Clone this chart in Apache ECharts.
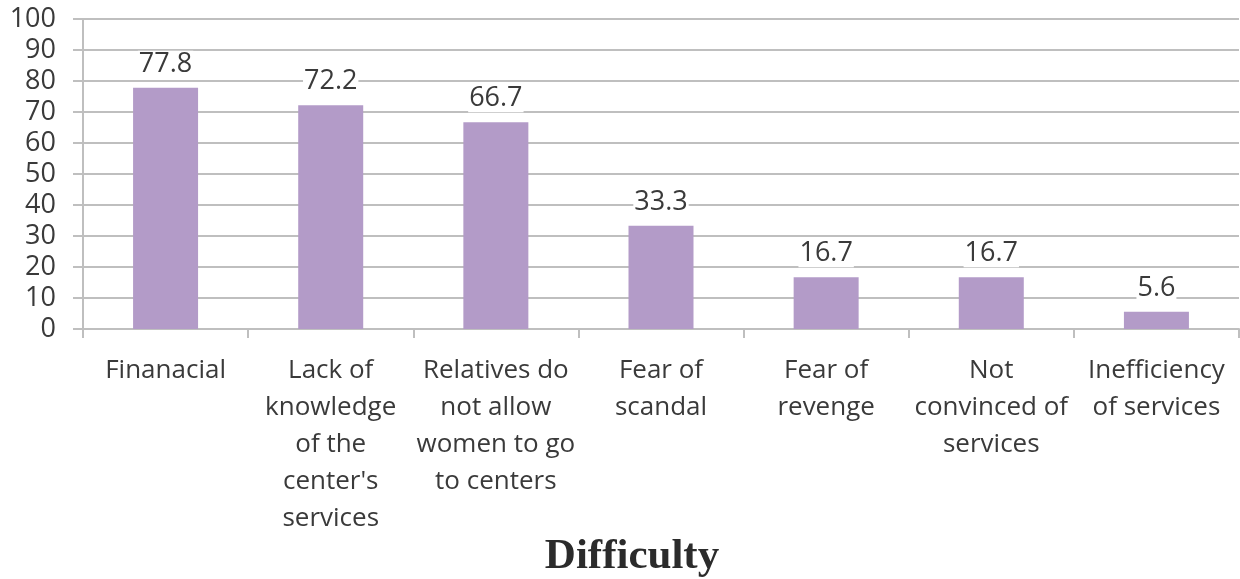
<!DOCTYPE html>
<html>
<head>
<meta charset="utf-8">
<script src="https://cdn.jsdelivr.net/npm/echarts@6/dist/echarts.min.js"></script>
<style>
  html, body { margin: 0; padding: 0; background: #fff; }
  #chart { width: 1240px; height: 579px; }
</style>
</head>
<body>
<div id="chart"></div>
<script>
// categories and values
const categories = [
  "Finanacial",
  "Lack of\nknowledge\nof the\ncenter's\nservices",
  "Relatives do\nnot allow\nwomen to go\nto centers",
  "Fear of\nscandal",
  "Fear of\nrevenge",
  "Not\nconvinced of\nservices",
  "Inefficiency\nof services",
];
const values = [77.8, 72.2, 66.7, 33.3, 16.7, 16.7, 5.6];
const yTicks = [0, 10, 20, 30, 40, 50, 60, 70, 80, 90, 100];
const axisTitle = "Difficulty";

const chart = echarts.init(document.getElementById("chart"), null, { renderer: "canvas" });
const textColor = "#3a3a3a";
const lineColor = "#bfbfbf";

const option = {
  backgroundColor: "#fff",
  animation: false,
  title: {
    text: axisTitle,
    left: 627,
    top: 530,
    textAlign: "center",
    textStyle: {
      fontFamily: "Liberation Serif",
      fontWeight: "bold",
      fontSize: 43,
      color: "#2b2b2b",
    },
  },
  grid: {
    left: 83,
    right: 1,
    top: 19,
    bottom: 250,
    containLabel: false,
  },
  xAxis: {
    type: "category",
    data: categories,
    axisLine: { show: true, lineStyle: { color: lineColor, width: 2 } },
    axisTick: { show: true, length: 9, lineStyle: { color: lineColor, width: 2 } },
    axisLabel: {
      interval: 0,
      margin: 23,
      fontFamily: "Open Sans",
      fontSize: 26,
      lineHeight: 37,
      color: textColor,
    },
  },
  yAxis: {
    type: "value",
    min: yTicks[0],
    max: yTicks[yTicks.length - 1],
    interval: 10,
    axisLine: { show: true, lineStyle: { color: lineColor, width: 2 } },
    axisTick: { show: true, length: 10, lineStyle: { color: lineColor, width: 2 } },
    splitLine: { show: true, lineStyle: { color: lineColor, width: 2 } },
    axisLabel: {
      margin: 27,
      fontFamily: "Open Sans",
      fontSize: 27,
      color: textColor,
    },
  },
  series: [
    {
      type: "bar",
      data: values,
      barWidth: 65,
      itemStyle: { color: "#b39bc8" },
      label: {
        show: true,
        position: "top",
        distance: 10,
        fontFamily: "Open Sans",
        fontSize: 27,
        color: textColor,
        backgroundColor: "#fff",
        padding: [0, 1],
        formatter: function(p) {
          return p.value.toFixed(1);
        },
      },
    },
  ],
};

chart.setOption(option);
</script>
</body>
</html>
